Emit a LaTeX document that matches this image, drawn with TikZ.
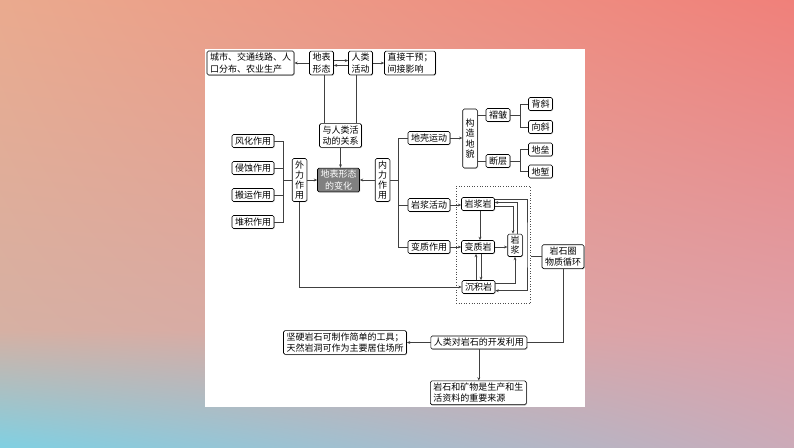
\documentclass[tikz,border=0pt]{standalone}
\usepackage{fontspec}
\setmainfont{Noto Sans CJK SC}
\usetikzlibrary{arrows.meta,shadows,shadings}
\definecolor{bgpeach}{RGB}{234,170,142}
\definecolor{bgsalmon}{RGB}{240,128,122}
\definecolor{bgmidl}{RGB}{214,176,163}
\definecolor{bgmidr}{RGB}{222,160,168}
\definecolor{bgcyan}{RGB}{128,208,226}
\definecolor{bglilac}{RGB}{204,170,184}
\begin{document}
\begin{tikzpicture}[x=1pt, y=1pt, >={Stealth[length=3.4pt,width=2.8pt]},
  box/.style={draw=black, line width=.6pt, rounded corners=1.5pt, fill=white,
    inner xsep=3pt, inner ysep=2pt, minimum height=13pt, align=center,
    font=\fontsize{9}{11.5}\selectfont,
    drop shadow={shadow xshift=.7pt, shadow yshift=-.7pt, fill=black!55}},
  lbox/.style={box, align=left},
  vbox/.style={box, inner xsep=2.8pt, font=\fontsize{9}{10.2}\selectfont},
  core/.style={box, fill=black!50, text=white},
  dotbox/.style={draw=black!70, dotted, line width=.6pt, inner sep=0pt,
    minimum width=74.7pt, minimum height=116.5pt},
  link/.style={draw=black!75, line width=.6pt}]
  \useasboundingbox (0,0) rectangle (794,-447);
  % background
  \shade[upper left=bgpeach, upper right=bgsalmon, lower left=bgmidl, lower right=bgmidr]
    (0,0) rectangle (794,-330);
  \shade[upper left=bgmidl, upper right=bgmidr, lower left=bgcyan, lower right=bglilac]
    (0,-330) rectangle (794,-447);
  \fill[white] (205,-49) rectangle (585,-407);

  % top row
  \node[lbox] (city) at (250.5,-63) {城市、交通线路、人\\口分布、农业生产};
  \node[box] (dbxt) at (321.5,-63) {地表\\形态};
  \node[box] (rlhd) at (360.5,-63) {人类\\活动};
  \node[lbox] (zjgy) at (410,-63) {直接干预；\\间接影响};
  \node[box] (ywrel) at (340.5,-135.5) {与人类活\\动的关系};

  % external forces
  \node[box] (fh) at (253,-141) {风化作用};
  \node[box] (qs) at (253,-168) {侵蚀作用};
  \node[box] (by) at (253,-195) {搬运作用};
  \node[box] (dj) at (253,-222) {堆积作用};
  \node[vbox] (wlzy) at (299.5,-180) {外\\力\\作\\用};
  \node[core] (core) at (338.5,-180) {地表形态\\的变化};
  \node[vbox] (nlzy) at (382.5,-180) {内\\力\\作\\用};

  % internal forces
  \node[box] (dkyd) at (429,-138) {地壳运动};
  \node[vbox, minimum height=59pt] (gzdm) at (470,-138.5) {构\\造\\地\\貌};
  \node[box] (zz) at (498,-115) {褶皱};
  \node[box] (dc) at (498,-161) {断层};
  \node[box] (bx) at (540.5,-104) {背斜};
  \node[box] (xx) at (540.5,-127) {向斜};
  \node[box] (dl) at (540.5,-149.5) {地垒};
  \node[box] (dq) at (540.5,-171.5) {地堑};
  \node[box] (yjhd) at (429,-205) {岩浆活动};
  \node[box] (bzzy) at (429,-247) {变质作用};

  % rock cycle
  \node[dotbox] (cyc) at (493.4,-244.8) {};
  \node[box] (yjy) at (478,-204) {岩浆岩};
  \node[box] (bzy) at (478,-247) {变质岩};
  \node[box] (cjy) at (478.5,-287) {沉积岩};
  \node[vbox] (yj) at (515,-245.3) {岩\\浆};
  \node[box] (yszx) at (563,-256.7) {岩石圈\\物质循环};

  % human use
  \node[box] (rldy) at (478.8,-342.5) {人类对岩石的开发利用};
  \node[lbox] (jyys) at (345,-342.5) {坚硬岩石可制作简单的工具；\\天然岩洞可作为主要居住场所};
  \node[lbox] (yskw) at (478.3,-392.8) {岩石和矿物是生产和生\\活资料的重要来源};

  % links, top
  \draw[link,->] (dbxt) -- (city);
  \draw[link,->] ([yshift=2.4pt]dbxt.east) -- ([yshift=2.4pt]rlhd.west);
  \draw[link,->] ([yshift=-2.4pt]rlhd.west) -- ([yshift=-2.4pt]dbxt.east);
  \draw[link,->] (rlhd) -- (zjgy);
  \draw[link] ([xshift=3.2pt]dbxt.south) -- ([xshift=3.2pt]dbxt.south |- ywrel.north);
  \draw[link] ([xshift=-3.8pt]rlhd.south) -- ([xshift=-3.8pt]rlhd.south |- ywrel.north);
  \draw[link,->] (ywrel.south) -- (ywrel.south |- core.north);

  % links, external
  \coordinate (lb) at (283,-180);
  \foreach \n in {fh,qs,by,dj} \draw[link] (\n.east) -| (lb);
  \draw[link] (lb) -- (wlzy.west);
  \draw[link,->] (wlzy) -- (core);
  \draw[link,->] (nlzy) -- (core);
  \draw[link,->] (wlzy.south) |- (cjy.west);

  % links, internal
  \coordinate (rb) at (398,-180);
  \draw[link] (nlzy.east) -- (rb);
  \foreach \n in {dkyd,yjhd,bzzy} \draw[link] (rb) |- (\n.west);
  \draw[link,->] (dkyd.east) -- (dkyd.east -| gzdm.west);
  \foreach \n in {zz,dc} \draw[link] (\n.west -| gzdm.east) -- (\n.west);
  \coordinate (zb) at (520,-115);
  \coordinate (db) at (520,-161);
  \draw[link] (zz.east) -- (zb);
  \draw[link] (dc.east) -- (db);
  \foreach \n in {bx,xx} \draw[link] (zb) |- (\n.west);
  \foreach \n in {dl,dq} \draw[link] (db) |- (\n.west);
  \draw[link,->] (yjhd.east) -- (yjhd.east -| yjy.west);
  \draw[link,->] (bzzy) -- (bzy);

  % links, rock cycle
  \draw[link,->] ([xshift=2pt]yjy.south) -- ([xshift=2pt]yjy.south |- bzy.north);
  \draw[link,->] (bzy.east) -- (bzy.east -| yj.west);
  \draw[link,->] ([xshift=-2.5pt]cjy.north) -- ([xshift=-2.5pt]cjy.north |- bzy.south);
  \draw[link,->] ([xshift=2.5pt]cjy.north |- bzy.south) -- ([xshift=2.5pt]cjy.north);
  \draw[link,->] ([yshift=3.5pt]cjy.east) -| (yj.south);
  \draw[link,->] ([xshift=2pt]yj.north) |- ([yshift=1.5pt]yjy.east);
  \draw[link,->] ([yshift=-2pt]yjy.east) -| ([xshift=-2pt]yj.north);
  \coordinate (ox) at (527,-245);
  \draw[link,->] ([yshift=5.2pt]yjy.east) -| (ox) |- ([yshift=-3.7pt]cjy.east);
  \draw[link] (cyc.east |- yszx.west) -- (yszx.west);

  % links, human use
  \draw[link] (yszx.south) |- (rldy.east);
  \draw[link,->] (rldy) -- (jyys);
  \draw[link,->] (rldy.south) -- (rldy.south |- yskw.north);
\end{tikzpicture}
\end{document}
